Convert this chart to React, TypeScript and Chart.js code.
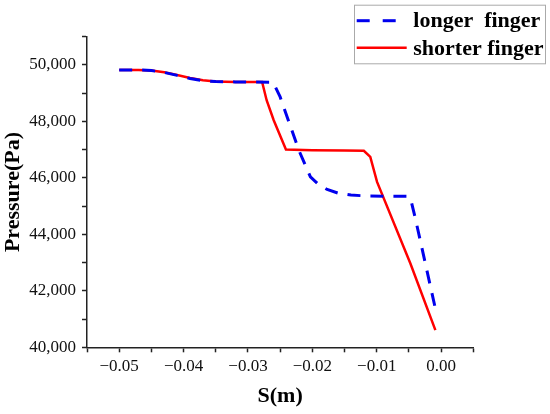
import React, { useEffect, useRef } from "react";
import { Chart, registerables } from "chart.js";

Chart.register(...registerables);

const longerX = [-0.05, -0.047, -0.045, -0.043, -0.041, -0.039, -0.037, -0.035, -0.032, -0.0261, -0.025, -0.0221, -0.0203, -0.019, -0.0177, -0.016, -0.014, -0.012, -0.0087, -0.005, -0.00462, -0.004, -0.00089];
const longerY = [49823, 49823, 49800, 49735, 49630, 49520, 49440, 49410, 49400, 49390, 48867, 46980, 46035, 45760, 45590, 45460, 45390, 45365, 45350, 45345, 45150, 44563, 41370];

const shorterX = [-0.05, -0.047, -0.045, -0.043, -0.041, -0.039, -0.037, -0.035, -0.032, -0.0278, -0.0271, -0.026, -0.0241, -0.02, -0.015, -0.012, -0.011, -0.00995, -0.00477, -0.00089];
const shorterY = [49823, 49823, 49800, 49740, 49645, 49540, 49455, 49412, 49400, 49400, 48750, 48040, 47005, 46980, 46970, 46960, 46744, 45858, 42970, 40609];

const seriesNames = ["longer  finger", "shorter finger"];
const seriesColors = ["#0000EE", "#FF0000"];

const xTitle = "S(m)";
const yTitle = "Pressure(Pa)";

const SERIF = '"Liberation Serif", "Times New Roman", serif';

const legendPlugin = {
  id: "boxLegend",
  afterDraw(chart: any) {
    const ctx = chart.ctx;
    const W = chart.width;
    const left = W - 196;
    const top = 4.7;
    const w = 191;
    const h = 58.6;
    ctx.save();
    ctx.strokeStyle = "#AAAAAA";
    ctx.lineWidth = 1;
    ctx.strokeRect(left + 0.5, top + 0.5, w, h);
    ctx.lineWidth = 3;
    ctx.strokeStyle = seriesColors[0];
    ctx.setLineDash([13, 13]);
    ctx.beginPath();
    ctx.moveTo(left + 2.7, top + 16);
    ctx.lineTo(left + 52.7, top + 16);
    ctx.stroke();
    ctx.setLineDash([]);
    ctx.strokeStyle = seriesColors[1];
    ctx.lineWidth = 2.5;
    ctx.beginPath();
    ctx.moveTo(left + 2.7, top + 43);
    ctx.lineTo(left + 52.7, top + 43);
    ctx.stroke();
    ctx.fillStyle = "#000";
    ctx.font = `bold 22px ${SERIF}`;
    ctx.textBaseline = "alphabetic";
    ctx.textAlign = "left";
    ctx.fillText(seriesNames[0], left + 59.3, top + 22.6);
    ctx.fillText(seriesNames[1], left + 59.3, top + 50.3);
    ctx.restore();
  },
};

export default function App() {
  const ref = useRef<HTMLCanvasElement>(null);
  useEffect(() => {
    if (!ref.current) return;
    const chart = new Chart(ref.current, {
      type: "line",
      data: {
        datasets: [
          {
            label: seriesNames[0],
            data: longerX.map((x, i) => ({ x, y: longerY[i] })),
            borderColor: seriesColors[0],
            backgroundColor: seriesColors[0],
            borderWidth: 3,
            borderDash: [13, 10],
            pointRadius: 0,
            tension: 0,
            fill: false,
          },
          {
            label: seriesNames[1],
            data: shorterX.map((x, i) => ({ x, y: shorterY[i] })),
            borderColor: seriesColors[1],
            backgroundColor: seriesColors[1],
            borderWidth: 2.5,
            pointRadius: 0,
            tension: 0,
            fill: false,
          },
        ],
      },
      options: {
        animation: false,
        responsive: false,
        devicePixelRatio: 1,
        layout: { padding: { top: 36.7, right: 76.7, left: 0, bottom: 0 } },
        plugins: {
          legend: { display: false },
          tooltip: { enabled: false },
        },
        scales: {
          x: {
            type: "linear",
            min: -0.055,
            max: 0.005,
            afterFit: (s: any) => {
              s.height = 66.7;
            },
            ticks: {
              stepSize: 0.005,
              autoSkip: false,
              maxRotation: 0,
              padding: 4,
              color: "#111",
              font: { family: SERIF, size: 17 },
              callback: (v: any) => {
                const n = Math.round(Number(v) * 1000);
                if (n % 10 !== 0) return "";
                const s = (Math.abs(n) / 1000).toFixed(2);
                return n < 0 ? "\u2212" + s : s;
              },
            },
            grid: {
              display: true,
              drawOnChartArea: false,
              drawTicks: true,
              tickLength: 5,
              tickColor: "#222",
              tickWidth: 1.5,
            },
            border: { display: true, color: "#222", width: 1.5 },
            title: {
              display: true,
              text: xTitle,
              color: "#000",
              font: { family: SERIF, size: 22, weight: "bold" },
              padding: { top: 0, bottom: 4 },
            },
          },
          y: {
            type: "linear",
            min: 40000,
            max: 51000,
            afterFit: (s: any) => {
              s.width = 87;
            },
            ticks: {
              stepSize: 1000,
              autoSkip: false,
              padding: 6,
              color: "#111",
              font: { family: SERIF, size: 17 },
              callback: (v: any) => {
                const n = Math.round(Number(v));
                if (n % 2000 !== 0) return "";
                return n.toLocaleString("en-US");
              },
            },
            grid: {
              display: true,
              drawOnChartArea: false,
              drawTicks: true,
              tickLength: 5,
              tickColor: "#222",
              tickWidth: 1.5,
            },
            border: { display: true, color: "#222", width: 1.5 },
            title: {
              display: true,
              text: yTitle,
              color: "#000",
              font: { family: SERIF, size: 22, weight: "bold" },
              padding: { top: 0, bottom: 0 },
            },
          },
        },
      },
      plugins: [legendPlugin],
    } as any);
    return () => chart.destroy();
  }, []);
  return (
    <div style={{ position: "absolute", left: 0, top: 0, width: 550, height: 414, background: "#fff" }}>
      <canvas ref={ref} width={550} height={414} style={{ width: 550, height: 414, display: "block" }} />
    </div>
  );
}
